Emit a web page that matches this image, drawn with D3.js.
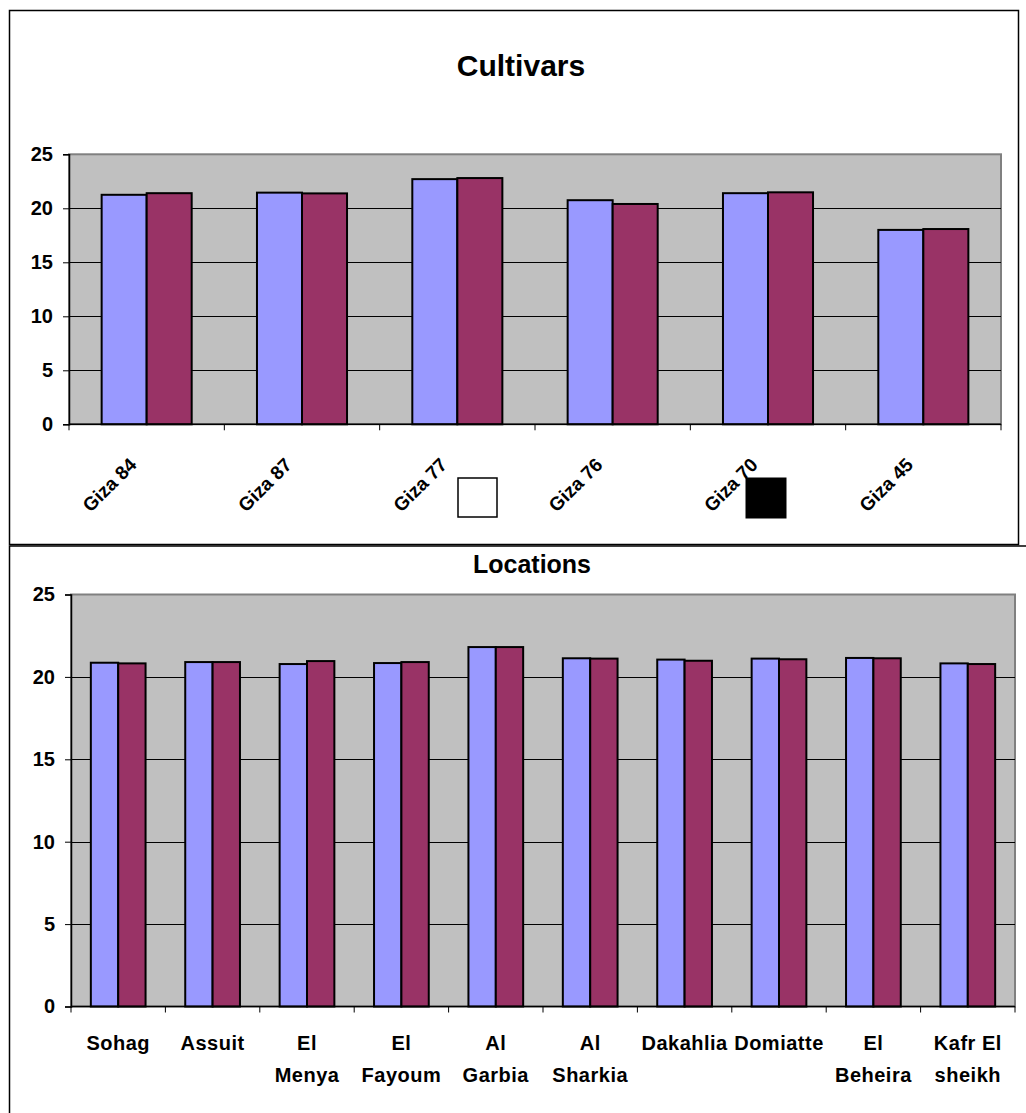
<!DOCTYPE html>
<html>
<head>
<meta charset="utf-8">
<script src="https://cdn.jsdelivr.net/npm/d3@7/dist/d3.min.js"></script>
<style>
  html, body { margin: 0; padding: 0; background: #fff; }
  svg { display: block; font-family: "Liberation Sans", Arial, sans-serif; }
</style>
</head>
<body>
<svg id="chart" width="1026" height="1113"></svg>
<script>
// ---- data ----
const seriesNames = ["Season 1", "Season 2"];

const cultivars = ["Giza 84", "Giza 87", "Giza 77", "Giza 76", "Giza 70", "Giza 45"];
const cultivarS1 = [21.25, 21.45, 22.70, 20.75, 21.40, 18.00];
const cultivarS2 = [21.40, 21.38, 22.80, 20.40, 21.48, 18.08];

const locations = ["Sohag", "Assuit", "El Menya", "El Fayoum", "Al Garbia", "Al Sharkia",
                   "Dakahlia", "Domiatte", "El Beheira", "Kafr El sheikh"];
const locationS1 = [20.86, 20.90, 20.78, 20.84, 21.81, 21.13, 21.05, 21.11, 21.15, 20.82];
const locationS2 = [20.82, 20.90, 20.96, 20.90, 21.81, 21.11, 20.98, 21.07, 21.13, 20.78];

const yTicks = [0, 5, 10, 15, 20, 25];

const colors = ["#9999FF", "#993366"];

const svg = d3.select("#chart");
svg.append("rect").attr("width", 1026).attr("height", 1113).attr("fill", "#fff");

// outer frames of the two chart objects
svg.append("rect").attr("x", 9.5).attr("y", 10.5).attr("width", 1009).attr("height", 534)
  .attr("fill", "none").attr("stroke", "#000").attr("stroke-width", 1.5);
svg.append("rect").attr("x", 9.5).attr("y", 546).attr("width", 1040).attr("height", 600)
  .attr("fill", "none").attr("stroke", "#000").attr("stroke-width", 1.5);

function drawBars(cfg) {
  const { cats, s1, s2, x0Range, yRange, tickFont } = cfg;
  const g = svg.append("g");
  const x0 = d3.scaleBand().domain(cats).range(x0Range).paddingInner(0).paddingOuter(0);
  const x1 = d3.scaleBand().domain(seriesNames).range([0, x0.bandwidth()])
    .paddingInner(0).paddingOuter(0.725);
  const y = d3.scaleLinear().domain([0, 25]).range(yRange);

  const [L, R] = x0Range;
  const [B, T] = yRange;

  // plot area
  g.append("rect").attr("x", L).attr("y", T).attr("width", R - L).attr("height", B - T)
    .attr("fill", "#C0C0C0").attr("stroke", "#808080").attr("stroke-width", 2);

  // gridlines
  g.append("g").selectAll("line").data(yTicks.filter(t => t > 0 && t < 25)).join("line")
    .attr("x1", L).attr("x2", R)
    .attr("y1", d => Math.round(y(d)) + 0.5).attr("y2", d => Math.round(y(d)) + 0.5)
    .attr("stroke", "#000").attr("stroke-width", 1);

  // bars
  const rows = cats.map((c, i) => ({ cat: c, vals: [s1[i], s2[i]] }));
  const grp = g.append("g").selectAll("g").data(rows).join("g")
    .attr("transform", d => `translate(${x0(d.cat)},0)`);
  grp.selectAll("rect").data(d => d.vals.map((v, k) => ({ v, k }))).join("rect")
    .attr("x", d => x1(seriesNames[d.k]))
    .attr("width", x1.bandwidth())
    .attr("y", d => y(d.v))
    .attr("height", d => y(0) - y(d.v))
    .attr("fill", d => colors[d.k])
    .attr("stroke", "#000").attr("stroke-width", 2);

  // y axis
  const yAxis = g.append("g").attr("transform", `translate(${L},0)`)
    .call(d3.axisLeft(y).tickValues(yTicks).tickSize(6).tickPadding(10));
  yAxis.select(".domain").attr("stroke", "#000").attr("stroke-width", 1.5);
  yAxis.selectAll(".tick line").attr("stroke", "#000");
  yAxis.selectAll("text").attr("font-family", "Liberation Sans, Arial, sans-serif")
    .attr("font-size", tickFont).attr("font-weight", "bold").attr("fill", "#000");

  // x axis line with boundary ticks
  g.append("line").attr("x1", L).attr("x2", R).attr("y1", B).attr("y2", B)
    .attr("stroke", "#000").attr("stroke-width", 1.5);
  const bounds = cats.map(c => x0(c)).concat([R]);
  g.append("g").selectAll("line").data(bounds).join("line")
    .attr("x1", d => d).attr("x2", d => d).attr("y1", B).attr("y2", B + 6)
    .attr("stroke", "#000").attr("stroke-width", 1);

  return { x0, y, g };
}

// ---- Cultivars ----
svg.append("text").attr("x", 521).attr("y", 76).attr("text-anchor", "middle")
  .attr("font-size", 30).attr("font-weight", "bold").text("Cultivars");

const cultivarChart = drawBars({
  cats: cultivars, s1: cultivarS1, s2: cultivarS2,
  x0Range: [69, 1001], yRange: [424.3, 154.3], tickFont: 20
});

cultivarChart.g.append("g").selectAll("text").data(cultivars).join("text")
  .attr("transform", d => `translate(${cultivarChart.x0(d) + cultivarChart.x0.bandwidth() / 2 - 9},466) rotate(-45)`)
  .attr("text-anchor", "end")
  .attr("font-size", 19).attr("font-weight", "bold")
  .text(d => d);

// legend keys
svg.append("rect").attr("x", 458).attr("y", 478).attr("width", 39).attr("height", 39)
  .attr("fill", "#fff").attr("stroke", "#000").attr("stroke-width", 1.5);
svg.append("rect").attr("x", 746).attr("y", 478).attr("width", 40).attr("height", 40)
  .attr("fill", "#000").attr("stroke", "#000").attr("stroke-width", 1);

// ---- Locations ----
svg.append("text").attr("x", 532).attr("y", 573).attr("text-anchor", "middle")
  .attr("font-size", 25).attr("font-weight", "bold").text("Locations");

const locationChart = drawBars({
  cats: locations, s1: locationS1, s2: locationS2,
  x0Range: [71, 1015], yRange: [1006.5, 594.5], tickFont: 20
});

const lbl = locationChart.g.append("g").selectAll("text").data(locations).join("text")
  .attr("x", d => locationChart.x0(d) + locationChart.x0.bandwidth() / 2)
  .attr("y", 1050)
  .attr("text-anchor", "middle")
  .attr("font-size", 20).attr("font-weight", "bold")
  .attr("letter-spacing", 0.5);
lbl.each(function (d) {
  const t = d3.select(this);
  const cut = d.lastIndexOf(" ");
  const lines = cut > 0 ? [d.slice(0, cut), d.slice(cut + 1)] : [d];
  const cx = t.attr("x");
  lines.forEach((ln, i) => {
    t.append("tspan").attr("x", cx).attr("dy", i === 0 ? 0 : 31.7).text(ln);
  });
});
</script>
</body>
</html>
